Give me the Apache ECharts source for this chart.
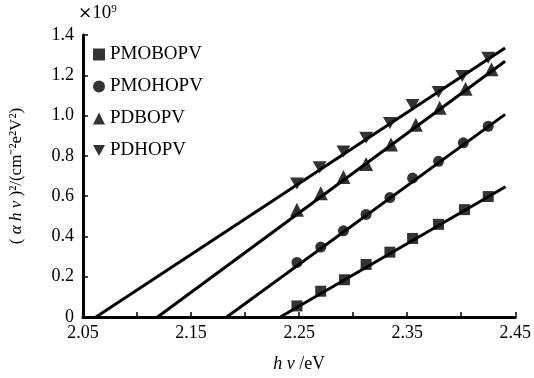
<!DOCTYPE html>
<html>
<head>
<meta charset="utf-8">
<script src="https://cdn.jsdelivr.net/npm/echarts@6/dist/echarts.min.js"></script>
<style>
  html, body { margin: 0; padding: 0; background: #fff; }
  #chart { width: 534px; height: 378px; }
</style>
</head>
<body>
<div id="chart"></div>
<script>
// 数据点 (hv, (αhv)^2 / 1e9)
const names = ['PMOBOPV', 'PMOHOPV', 'PDBOPV', 'PDHOPV'];
const hvMOBO = [2.248, 2.270, 2.292, 2.312, 2.334, 2.355, 2.379, 2.403, 2.425];
const valMOBO = [0.055, 0.128, 0.185, 0.261, 0.322, 0.390, 0.460, 0.533, 0.598];
const hvMOHO = [2.248, 2.270, 2.291, 2.312, 2.334, 2.355, 2.379, 2.402, 2.425];
const valMOHO = [0.271, 0.347, 0.428, 0.509, 0.593, 0.690, 0.773, 0.865, 0.947];
const hvDBO = [2.248, 2.270, 2.291, 2.312, 2.335, 2.358, 2.380, 2.404, 2.428];
const valDBO = [0.533, 0.614, 0.695, 0.760, 0.857, 0.954, 1.039, 1.133, 1.230];
const hvDHO = [2.248, 2.269, 2.291, 2.312, 2.334, 2.355, 2.379, 2.401, 2.425];
const valDHO = [0.663, 0.744, 0.822, 0.890, 0.963, 1.052, 1.117, 1.197, 1.287];
// 拟合直线的两个端点
const fitX0 = [2.2326, 2.183, 2.119, 2.062];
const fitX1 = [2.441, 2.4406, 2.4406, 2.4406];
const fitY1 = [0.647, 1.006, 1.270, 1.335];

const hvList = [hvMOBO, hvMOHO, hvDBO, hvDHO];
const valList = [valMOBO, valMOHO, valDBO, valDHO];
const downTri = 'path://M0,0 L10,0 L5,9 Z';
const symbols = ['rect', 'circle', 'triangle', downTri];
const sizes = [11, 11, 14, [14, 12]];
const serif = 'Liberation Serif';

const chart = echarts.init(document.getElementById('chart'));

let series = [];
for (let i = 0; i < 4; i++) {
  series.push({
    type: 'line',
    data: [[fitX0[i], 0], [fitX1[i], fitY1[i]]],
    symbol: 'none',
    silent: true,
    lineStyle: { color: '#000', width: 3 },
    z: 2
  });
}
for (let i = 0; i < 4; i++) {
  series.push({
    name: names[i],
    type: 'scatter',
    data: hvList[i].map((x, j) => [x, valList[i][j]]),
    symbol: symbols[i],
    symbolSize: sizes[i],
    itemStyle: { color: '#000' },
    z: 3
  });
}

chart.setOption({
  animation: false,
  backgroundColor: '#fff',
  textStyle: { fontFamily: serif },
  grid: { left: 81, right: 17, top: 35, bottom: 55 },
  legend: {
    orient: 'vertical',
    left: 88,
    top: 40,
    itemGap: 13,
    itemWidth: 12,
    itemHeight: 12,
    data: names.map((n, i) => ({ name: n, icon: symbols[i] })),
    textStyle: { fontFamily: serif, fontSize: 19, color: '#000' }
  },
  xAxis: {
    type: 'value',
    min: 2.05,
    max: 2.45,
    interval: 0.05,
    name: '{i|h ν} /eV',
    nameLocation: 'middle',
    nameGap: 38,
    nameTextStyle: {
      fontFamily: serif, fontSize: 18, color: '#000',
      rich: { i: { fontFamily: serif, fontSize: 18, fontStyle: 'italic', color: '#000' } }
    },
    axisLine: { lineStyle: { color: '#000', width: 3 } },
    axisTick: { inside: true, length: 5, lineStyle: { color: '#000', width: 1.5 } },
    axisLabel: {
      fontFamily: serif, fontSize: 18, color: '#000', margin: 7,
      formatter: (v, idx) => (Math.round((v - 2.05) * 100) % 10 === 0 ? v.toFixed(2) : '')
    },
    splitLine: { show: false }
  },
  yAxis: {
    type: 'value',
    min: 0,
    max: 1.4,
    interval: 0.2,
    name: '( {i|α h ν} )²/(cm⁻²e²V²)',
    nameLocation: 'middle',
    nameRotate: 90,
    nameGap: 58,
    nameTextStyle: {
      fontFamily: serif, fontSize: 17, color: '#000',
      rich: { i: { fontFamily: serif, fontSize: 17, fontStyle: 'italic', color: '#000' } }
    },
    axisLine: { lineStyle: { color: '#000', width: 3 } },
    axisTick: { inside: true, length: 5, lineStyle: { color: '#000', width: 1.5 } },
    axisLabel: {
      fontFamily: serif, fontSize: 18, color: '#000', margin: 9,
      formatter: (v) => (v === 0 ? '0' : v.toFixed(1))
    },
    splitLine: { show: false }
  },
  graphic: [{
    type: 'text',
    left: 78,
    top: 4,
    style: {
      text: '{x|×}{n|10}{s|9}',
      fill: '#000',
      rich: {
        x: { fontFamily: 'DejaVu Serif', fontSize: 17, fill: '#000' },
        n: { fontFamily: serif, fontSize: 19, fill: '#000' },
        s: { fontFamily: serif, fontSize: 11, fill: '#000', verticalAlign: 'top', padding: [0, 0, 8, 0] }
      }
    }
  }],
  series: series
});
</script>
</body>
</html>
